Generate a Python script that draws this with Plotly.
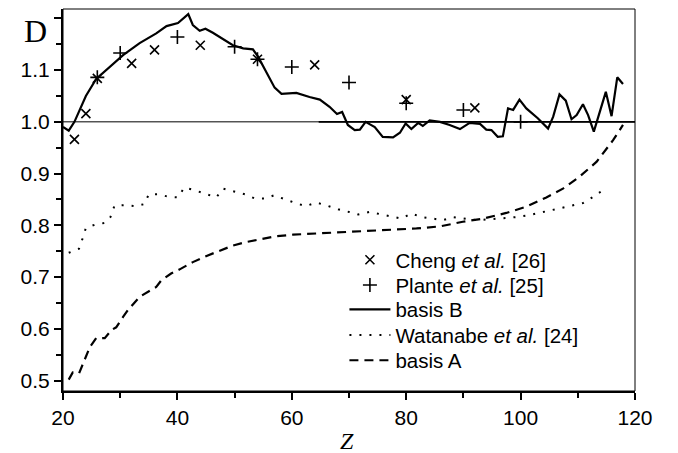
import plotly.graph_objects as go

# ---- data ----
cheng_z = [22, 24, 26, 32, 36, 44, 54, 64, 80, 92]
cheng_v = [0.966, 1.016, 1.084, 1.113, 1.139, 1.148, 1.121, 1.110, 1.043, 1.027]

plante_z = [26, 30, 40, 50, 54, 60, 70, 80, 90, 100]
plante_v = [1.086, 1.133, 1.164, 1.145, 1.121, 1.106, 1.076, 1.036, 1.023, 1.000]

basisB_z = [20, 21, 22, 24, 25.8, 28.2, 30.5, 33.4, 36.3, 38.1, 40.1, 41.9, 42.7, 43.9,
            44.9, 46.2, 48.0, 49.7, 51.5, 53.2, 54.1, 55.6, 57.0, 58.2, 60.8, 63.1, 64.9,
            66.6, 67.9, 68.8, 69.8, 71.0, 71.9, 72.9, 74.5, 75.9, 77.7, 78.9, 79.9, 80.9,
            82.1, 82.9, 84.1, 85.9, 87.6, 89.4, 91.1, 92.9, 94.0, 94.9, 96.0, 96.9, 97.8,
            98.7, 99.8, 101.0, 103.0, 104.8, 105.7, 106.8, 107.9, 108.9, 109.8, 110.9,
            111.8, 112.8, 113.7, 114.9, 115.9, 116.9, 117.9]
basisB_v = [0.990, 0.983, 1.000, 1.050, 1.083, 1.106, 1.129, 1.152, 1.171, 1.185, 1.191,
            1.208, 1.187, 1.176, 1.180, 1.172, 1.159, 1.148, 1.142, 1.140, 1.126, 1.094,
            1.066, 1.054, 1.056, 1.048, 1.043, 1.029, 1.015, 1.019, 0.994, 0.984, 0.985,
            1.000, 0.990, 0.971, 0.970, 0.979, 0.997, 0.986, 0.998, 0.992, 1.003, 1.000,
            0.994, 0.986, 0.998, 0.996, 0.985, 0.984, 0.971, 0.972, 1.026, 1.023, 1.043,
            1.026, 1.007, 0.987, 1.010, 1.053, 1.041, 1.005, 1.013, 1.034, 1.013, 0.981,
            1.013, 1.058, 1.011, 1.086, 1.073]

watanabe_z = [21, 22.8, 23.4, 24, 25.5, 27.4, 28.3, 29, 30.8, 32.7, 34.2, 35, 36.7, 38.5,
              40.1, 41.2, 43, 44.9, 46.8, 48, 49.8, 51.8, 53.5, 55.3, 56.9, 58.8, 60.7,
              62.4, 64.3, 66.2, 68.1, 70, 71.6, 73.6, 75.7, 77.4, 79.2, 80.9, 82.7, 84.7,
              86.4, 88.2, 90.2, 92.3, 95, 97, 99.3, 101.6, 103.3, 105.4, 107.4, 109.2,
              110.9, 112.7, 114.4, 115]
watanabe_v = [0.747, 0.755, 0.774, 0.795, 0.801, 0.805, 0.816, 0.838, 0.839, 0.837, 0.841,
              0.860, 0.860, 0.855, 0.854, 0.873, 0.868, 0.861, 0.854, 0.871, 0.866, 0.860,
              0.852, 0.852, 0.858, 0.850, 0.843, 0.837, 0.844, 0.838, 0.831, 0.826, 0.821,
              0.826, 0.821, 0.816, 0.813, 0.823, 0.816, 0.813, 0.810, 0.816, 0.813, 0.810,
              0.812, 0.814, 0.816, 0.820, 0.824, 0.829, 0.834, 0.839, 0.843, 0.855, 0.868,
              0.870]

basisA_z = [21, 21.7, 22.8, 23.5, 24.1, 24.7, 25.8, 27.3, 28.5, 29.3, 30.5, 31.4, 33.4,
            36.3, 37.2, 38.9, 40.4, 42.7, 45.1, 46.5, 48.6, 49.7, 52.1, 55, 57.3, 60.2,
            63.7, 67.2, 70.7, 75.9, 81.8, 85.9, 89.9, 93.4, 97.5, 101, 104.5, 107.4,
            110.3, 113.3, 116.2, 117.9]
basisA_v = [0.502, 0.516, 0.514, 0.533, 0.552, 0.565, 0.582, 0.582, 0.598, 0.603, 0.623,
            0.637, 0.662, 0.681, 0.694, 0.707, 0.715, 0.729, 0.741, 0.747, 0.755, 0.761,
            0.768, 0.774, 0.779, 0.782, 0.784, 0.785, 0.787, 0.790, 0.794, 0.798, 0.807,
            0.813, 0.824, 0.836, 0.854, 0.871, 0.894, 0.923, 0.965, 0.994]

x_tickvals = [20, 40, 60, 80, 100, 120]
y_tickvals = [0.5, 0.6, 0.7, 0.8, 0.9, 1.0, 1.1, 1.2]
y_ticktext = ["0.5", "0.6", "0.7", "0.8", "0.9", "1.0", "1.1", ""]
ref_level = 1.0
ref_thick_start = 64.7

SANS = "Liberation Sans, Arial, sans-serif"
SERIF = "Liberation Serif, Times New Roman, serif"

fig = go.Figure()
fig.add_trace(go.Scatter(x=cheng_z, y=cheng_v, mode="markers", name="Cheng <i>et al.</i> [26]",
                         legend="legend",
                         marker=dict(symbol="x-thin-open", size=9, color="black",
                                     line=dict(width=1.6, color="black"))))
fig.add_trace(go.Scatter(x=plante_z, y=plante_v, mode="markers", name="Plante <i>et al.</i> [25]",
                         legend="legend2",
                         marker=dict(symbol="cross-thin-open", size=10, color="black",
                                     line=dict(width=1.6, color="black"))))
fig.add_trace(go.Scatter(x=basisB_z, y=basisB_v, mode="lines", name="basis B",
                         legend="legend3",
                         line=dict(color="black", width=2.2)))
fig.add_trace(go.Scatter(x=watanabe_z, y=watanabe_v, mode="lines", name="Watanabe <i>et al.</i> [24]",
                         legend="legend4",
                         line=dict(color="black", width=2, dash="2px,8px")))
fig.add_trace(go.Scatter(x=basisA_z, y=basisA_v, mode="lines", name="basis A",
                         legend="legend5",
                         line=dict(color="black", width=2.2, dash="9px,6px")))

# reference line at 1.0
fig.add_shape(type="line", xref="x", yref="y", x0=20, x1=120, y0=ref_level, y1=ref_level,
              line=dict(color="black", width=1), layer="below")
fig.add_shape(type="line", xref="x", yref="y", x0=ref_thick_start, x1=120, y0=ref_level,
              y1=ref_level, line=dict(color="black", width=1.8), layer="below")
# thin frame (top/right)
fig.add_shape(type="rect", xref="paper", yref="paper", x0=0, x1=1, y0=0, y1=1,
              line=dict(color="black", width=1))

fig.add_annotation(text="D", xref="paper", yref="paper", x=-0.024, y=0.942,
                   xanchor="right", yanchor="middle", showarrow=False,
                   font=dict(family=SERIF, size=32, color="black"))
fig.add_annotation(text="<i>Z</i>", xref="paper", yref="paper", x=0.497, y=-0.13,
                   xanchor="center", yanchor="middle", showarrow=False,
                   font=dict(family=SERIF, size=24, color="black"))

legend_rows = [0.343, 0.277, 0.213, 0.146, 0.080]
legend_style = dict(x=0.492, xanchor="left", yanchor="middle",
                    bgcolor="rgba(0,0,0,0)", borderwidth=0,
                    font=dict(family=SANS, size=20.5, color="black"), itemwidth=41)

fig.update_layout(
    width=678, height=453,
    margin=dict(l=63, r=43, t=9, b=62),
    paper_bgcolor="white", plot_bgcolor="white",
    font=dict(family=SANS, size=21, color="black"),
    showlegend=True,
    legend=dict(y=legend_rows[0], **legend_style),
    legend2=dict(y=legend_rows[1], **legend_style),
    legend3=dict(y=legend_rows[2], **legend_style),
    legend4=dict(y=legend_rows[3], **legend_style),
    legend5=dict(y=legend_rows[4], **legend_style),
    xaxis=dict(range=[20, 120], tickvals=x_tickvals, ticks="outside", ticklen=7,
               tickwidth=1.5, tickcolor="black", showline=True, linewidth=2,
               linecolor="black", showgrid=False, zeroline=False,
               minor=dict(dtick=10, ticks="outside", ticklen=5, tickwidth=1.5,
                          tickcolor="black", showgrid=False),
               tickfont=dict(family=SANS, size=21)),
    yaxis=dict(range=[0.48, 1.218], tickvals=y_tickvals, ticktext=y_ticktext,
               ticks="outside", ticklen=7, tickwidth=1.5, tickcolor="black",
               showline=True, linewidth=2, linecolor="black", showgrid=False,
               zeroline=False,
               minor=dict(dtick=0.05, tick0=0.5, ticks="outside", ticklen=5, tickwidth=1.5,
                          tickcolor="black", showgrid=False),
               tickfont=dict(family=SANS, size=21)),
)

fig.write_html("out.html", config={"displayModeBar": False},
               post_script="document.body.style.margin='0';")
